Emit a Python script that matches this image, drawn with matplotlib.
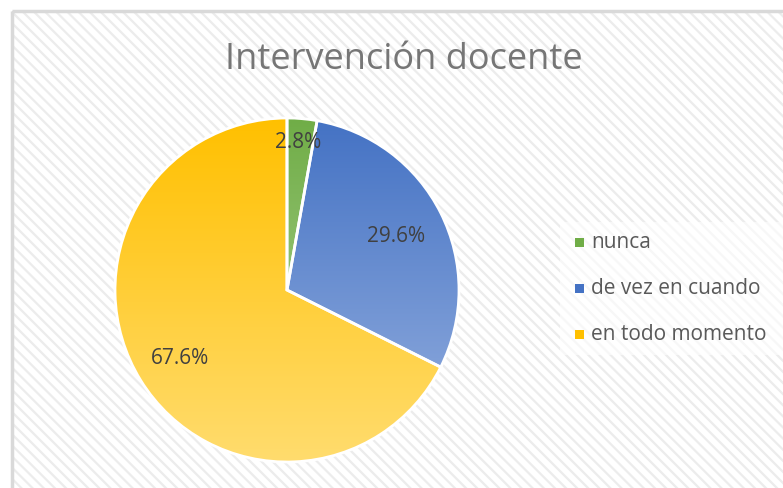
import numpy as np
import matplotlib.pyplot as plt
from matplotlib.patches import Rectangle
from matplotlib.colors import LinearSegmentedColormap

# data
labels = ["nunca", "de vez en cuando", "en todo momento"]
shares = [2.8, 29.6, 67.6]
top_colors = ["#70AD47", "#4472C4", "#FFC000"]
bottom_colors = ["#B4D69A", "#97B1E0", "#FFDC6E"]
title = "Intervención docente"

plt.rcParams["font.family"] = ["Open Sans", "DejaVu Sans"]
plt.rcParams["hatch.linewidth"] = 1.6
plt.rcParams["hatch.color"] = "#ECECEC"

W, H = 783, 488
fig = plt.figure(figsize=(W / 100, H / 100), dpi=100)
fig.patch.set_facecolor("white")

# background chart area with diagonal stripes
bg = fig.add_axes([0, 0, 1, 1])
bg.set_xlim(0, W)
bg.set_ylim(H, 0)
bg.axis("off")
bg.add_patch(Rectangle((12, 11), W, H, facecolor="white", edgecolor="none"))
bg.add_patch(Rectangle((12, 11), W, H, facecolor="none", edgecolor="#ECECEC",
                       hatch="\\\\\\", linewidth=0))
bg.add_patch(Rectangle((12, 11), W, H, facecolor="none", edgecolor="#D9D9D9", linewidth=2.5))
# legend box
bg.add_patch(Rectangle((560, 222), 223, 133, facecolor="white", alpha=0.6, edgecolor="none"))

bg.text(404, 60, title, fontsize=26, color="#767676", ha="center", va="center")

# pie
cx, cy, r = 287, 290, 172
ax = fig.add_axes([(cx - r) / W, (H - cy - r) / H, 2 * r / W, 2 * r / H])

wedges, _ = ax.pie(shares, startangle=90, counterclock=False, radius=1,
                   colors=top_colors, wedgeprops=dict(edgecolor="white", linewidth=2))
ax.axis("off")
ax.set_aspect("auto")

grad = np.linspace(0, 1, 256).reshape(-1, 1)
for w, c0, c1 in zip(wedges, top_colors, bottom_colors):
    cmap = LinearSegmentedColormap.from_list("g", [c0, c1])
    im = ax.imshow(grad, cmap=cmap, extent=[-1, 1, -1, 1], origin="upper",
                   aspect="auto", zorder=w.get_zorder() + 0.1)
    im.set_clip_path(w)
    w.set_facecolor("none")
    w.set_zorder(w.get_zorder() + 0.2)

ax.set_xlim(-1, 1)
ax.set_ylim(-1, 1)

# data labels
label_pos = [(298, 143), (396, 236), (180, 358)]
for (px, py), v in zip(label_pos, shares):
    ax.text((px - cx) / r, (cy - py) / r, f"{v}%", fontsize=15, color="#404040",
            ha="center", va="center", zorder=10)

# legend
rows = [243, 289, 335]
for y, lab, c0, c1 in zip(rows, labels, top_colors, bottom_colors):
    bg.add_patch(Rectangle((575, y - 5), 9, 9, facecolor=c0, edgecolor="none"))
    bg.text(591, y, lab, fontsize=15, color="#595959", ha="left", va="center")

fig.savefig("out.png", dpi=100)
